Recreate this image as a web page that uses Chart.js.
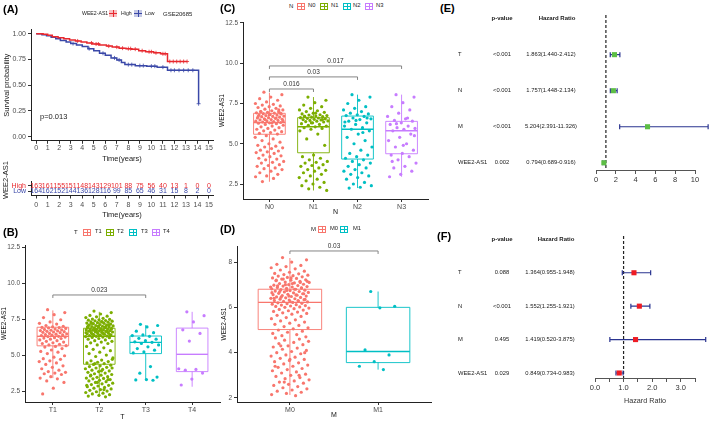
<!DOCTYPE html>
<html>
<head>
<meta charset="utf-8">
<script src="https://cdn.jsdelivr.net/npm/chart.js@4.4.0/dist/chart.umd.min.js"></script>
<style>
  body { margin: 0; background: #fff; font-family: "Liberation Sans", Arial, sans-serif; }
  #wrap { position: relative; width: 709px; height: 421px; overflow: hidden; background: #fff; }
  #wrap canvas { position: absolute; }
  .t { position: absolute; white-space: nowrap; line-height: 1; }
  .key { position: absolute; box-sizing: border-box; }
</style>
</head>
<body>
<div id="wrap"></div>
<script>
// ---------- data ----------
// (A) Kaplan-Meier, GSE20685
const kmTimeHigh = [0, 0.6, 1.0, 1.4, 1.9, 2.4, 2.9, 3.4, 3.9, 4.4, 4.9, 5.5, 6.1, 6.6, 7.2, 7.8, 8.3, 8.9, 9.5, 10.2, 10.8, 11.4, 13.1];
const kmSurvHigh = [1.0, 0.995, 0.985, 0.97, 0.96, 0.95, 0.94, 0.93, 0.92, 0.91, 0.9, 0.89, 0.88, 0.87, 0.86, 0.855, 0.85, 0.835, 0.825, 0.815, 0.805, 0.73, 0.73];
const kmTimeLow = [0, 0.5, 0.9, 1.3, 1.7, 2.1, 2.6, 3.0, 3.5, 4.0, 4.5, 5.0, 5.5, 6.0, 6.5, 7.0, 7.4, 7.7, 8.6, 9.6, 10.5, 11.4, 14.1];
const kmSurvLow = [1.0, 0.99, 0.98, 0.965, 0.95, 0.935, 0.92, 0.905, 0.89, 0.875, 0.855, 0.835, 0.81, 0.79, 0.765, 0.745, 0.72, 0.70, 0.69, 0.685, 0.675, 0.645, 0.32];
const censorHigh = [3.6, 4.8, 5.2, 5.4, 6.3, 7.0, 7.5, 8.0, 8.2, 8.6, 9.2, 9.8, 10.0, 10.4, 11.0, 11.2, 11.6, 11.9, 12.2, 12.5, 12.8, 13.1];
const censorLow = [3.2, 4.6, 5.8, 6.8, 7.2, 8.0, 8.3, 9.0, 9.3, 10.0, 10.3, 11.0, 11.7, 12.0, 12.4, 12.8, 13.2, 13.6, 14.1];
const riskYears = [0, 1, 2, 3, 4, 5, 6, 7, 8, 9, 10, 11, 12, 13, 14, 15];
const riskHigh = [163, 161, 155, 151, 148, 143, 129, 101, 88, 75, 56, 40, 13, 1, 0, 0];
const riskLow = [164, 162, 152, 144, 136, 128, 116, 99, 85, 65, 46, 31, 15, 8, 2, 0];

// (B) T stage
const groupsT = ['T1', 'T2', 'T3', 'T4'];
const statsT = [[3.4, 5.64, 6.3, 6.93, 8.1], [2.1, 4.36, 6.3, 6.86, 8.0], [3.26, 5.1, 5.88, 6.32, 7.08], [2.8, 3.85, 5.05, 6.87, 8.0]];
const valT1 = [8.15,7.95,7.8,7.6,7.45,7.3,7.2,7.15,7.05,7.0,6.95,6.92,6.9,6.88,6.85,6.8,6.78,6.75,6.72,6.7,6.68,6.65,6.62,6.6,6.58,6.55,6.5,6.48,6.45,6.42,6.4,6.38,6.35,6.3,6.28,6.25,6.2,6.18,6.15,6.1,6.05,6.0,5.95,5.9,5.85,5.8,5.75,5.7,5.65,5.6,5.55,5.45,5.35,5.25,5.2,5.1,4.95,4.85,4.75,4.7,4.6,4.55,4.45,4.35,4.25,4.15,4.05,3.95,3.85,3.8,3.75,3.7,3.65,3.5,3.4,3.35,3.2,3.1,2.7,2.3];
const valT2 = [8.05,7.95,7.85,7.75,7.7,7.65,7.6,7.55,7.5,7.48,7.45,7.42,7.4,7.38,7.35,7.32,7.3,7.28,7.25,7.22,7.2,7.18,7.15,7.12,7.1,7.08,7.05,7.02,7.0,6.98,6.96,6.94,6.92,6.9,6.88,6.86,6.84,6.82,6.8,6.78,6.76,6.74,6.72,6.7,6.68,6.66,6.64,6.62,6.6,6.58,6.55,6.52,6.5,6.48,6.45,6.42,6.4,6.38,6.35,6.32,6.3,6.28,6.25,6.22,6.2,6.15,6.1,6.05,6.0,5.95,5.9,5.85,5.8,5.7,5.6,5.5,5.4,5.3,5.2,5.1,5.0,4.9,4.8,
  7.3,7.2,7.1,7.0,6.95,6.9,6.85,6.8,6.75,6.7,6.65,6.6,6.55,6.5,6.45,6.4,6.35,7.05,6.98,6.72,
  4.7,4.65,4.6,4.55,4.5,4.45,4.4,4.35,4.3,4.25,4.2,4.15,4.1,4.05,4.0,3.95,3.9,3.85,3.8,3.75,3.7,3.65,3.6,3.55,3.5,3.45,3.4,3.38,3.35,3.3,3.25,3.2,3.15,3.1,3.05,3.0,2.95,2.9,2.85,2.8,2.75,2.7,2.65,2.6,2.55,2.5,2.45,2.4,2.35,2.3,2.25,2.2,2.15,2.1,4.4,4.1,3.9,3.6,3.3,3.1,2.9,2.6];
const valT3 = [7.13,7.05,6.95,6.66,6.55,6.4,6.35,6.3,6.16,6.1,6.0,5.92,5.88,5.8,5.7,5.57,5.45,5.34,5.22,5.15,4.2,3.74,3.47,3.3,3.27,3.25];
const valT4 = [8.0,7.73,7.3,6.75,6.5,5.97,4.05,4.0,3.95,3.75,3.33,2.92];
const bracketsT = [[1, 3, '0.023']];

// (C) N stage
const groupsN = ['N0', 'N1', 'N2', 'N3'];
const statsN = [[2.64, 5.59, 6.31, 6.89, 8.17], [2.1, 4.44, 6.06, 6.62, 7.9], [2.25, 4.05, 5.9, 6.72, 8.05], [2.95, 4.38, 5.81, 6.39, 8.05]];
const valN0 = [8.2,8.05,7.9,7.8,7.7,7.6,7.5,7.45,7.4,7.35,7.3,7.25,7.2,7.15,7.1,7.05,7.0,6.98,6.95,6.92,6.9,6.87,6.85,6.82,6.8,6.78,6.75,6.72,6.7,6.68,6.65,6.62,6.6,6.58,6.55,6.52,6.5,6.48,6.45,6.42,6.4,6.38,6.35,6.32,6.3,6.28,6.25,6.2,6.15,6.1,6.05,6.0,5.95,5.9,5.85,5.8,5.75,5.7,5.65,5.6,5.5,5.4,5.3,5.2,5.1,5.0,4.9,4.85,4.8,4.75,4.7,4.6,4.55,4.5,4.45,4.4,4.3,4.25,4.2,4.1,4.05,4.0,3.9,3.85,3.8,3.7,3.65,3.6,3.5,3.45,3.4,3.3,3.2,3.1,3.0,2.95,2.85,2.65,6.9,6.8,6.7,6.6,6.5,6.4,6.3,7.0,7.1];
const valN1 = [7.9,7.7,7.55,7.4,7.3,7.2,7.1,7.05,7.0,6.95,6.9,6.85,6.8,6.78,6.75,6.72,6.7,6.68,6.65,6.62,6.6,6.58,6.55,6.52,6.5,6.48,6.45,6.42,6.4,6.38,6.35,6.3,6.25,6.2,6.15,6.1,6.05,6.0,5.95,5.9,5.8,5.6,5.3,4.9,4.3,4.2,4.1,4.0,3.9,3.85,3.8,3.7,3.65,3.6,3.5,3.4,3.35,3.3,3.2,3.1,3.0,2.9,2.8,2.7,2.6,2.5,2.4,2.3,2.2,2.1,6.9,6.7,6.5,6.3];
const valN2 = [8.05,7.9,7.7,7.5,7.3,7.2,7.1,7.0,6.9,6.85,6.8,6.75,6.7,6.6,6.55,6.5,6.4,6.3,6.2,6.1,6.0,5.9,5.8,5.6,5.4,5.2,5.0,4.8,4.6,4.4,4.3,4.2,4.1,4.0,3.9,3.8,3.7,3.6,3.5,3.4,3.3,3.2,3.1,3.0,2.9,2.8,2.6,2.5,2.4,2.3,2.25,6.6,6.45,6.35,5.7];
const valN3 = [8.05,7.9,7.55,7.3,7.1,6.9,6.7,6.55,6.45,6.4,6.3,6.2,6.1,6.0,5.95,5.9,5.8,5.6,5.4,5.2,5.0,4.8,4.6,4.4,4.3,4.2,4.0,3.8,3.6,3.5,3.3,3.1,2.95,6.6,6.25,5.5,4.9,3.9];
const bracketsN = [[1, 4, '0.017'], [1, 3, '0.03'], [1, 2, '0.016']];

// (D) M stage
const groupsM = ['M0', 'M1'];
const statsM = [[2.13, 5.02, 6.22, 6.8, 8.18], [3.25, 3.56, 4.05, 6.0, 6.7]];
const valM0 = [8.2,8.1,8.0,7.9,7.85,7.8,7.75,7.7,7.65,7.6,7.55,7.5,7.48,7.45,7.42,7.4,7.38,7.35,7.32,7.3,7.28,7.25,7.22,7.2,7.18,7.15,7.12,7.1,7.08,7.05,7.02,7.0,6.98,6.96,6.94,6.92,6.9,6.88,6.86,6.84,6.82,6.8,6.78,6.76,6.74,6.72,6.7,6.68,6.66,6.64,6.62,6.6,6.58,6.56,6.54,6.52,6.5,6.48,6.46,6.44,6.42,6.4,6.38,6.36,6.34,6.32,6.3,6.28,6.26,6.24,6.22,6.2,6.18,6.16,6.14,6.12,6.1,6.08,6.06,6.04,6.02,6.0,5.97,5.94,5.91,5.88,5.85,5.82,5.79,5.76,5.73,5.7,5.65,5.6,5.55,5.5,5.45,5.4,5.35,5.3,5.25,5.2,5.15,5.1,5.05,5.0,4.95,4.9,4.85,4.8,4.75,4.7,
  7.3,7.2,7.1,7.0,6.9,6.8,6.7,6.6,6.5,6.4,6.3,7.25,7.15,7.05,6.95,6.85,6.75,6.65,6.55,6.45,6.35,6.25,
  4.65,4.6,4.55,4.5,4.45,4.4,4.35,4.3,4.25,4.2,4.15,4.1,4.05,4.0,3.95,3.9,3.85,3.8,3.75,3.7,3.65,3.6,3.55,3.5,3.45,3.4,3.35,3.3,3.25,3.2,3.15,3.1,3.05,3.0,2.95,2.9,2.85,2.8,2.75,2.7,2.65,2.6,2.55,2.5,2.45,2.4,2.35,2.3,2.25,2.2,2.15,2.1,4.3,4.0,3.7,3.4,3.0,2.7];
const valM1 = [6.7, 6.05, 5.98, 4.12, 3.9, 3.6, 3.4, 3.25];
const bracketsM = [[1, 2, '0.03']];

// (E) univariate / (F) multivariate Cox
const coxRows = ['T', 'N', 'M', 'WEE2-AS1'];
const pUni = ['<0.001', '<0.001', '<0.001', '0.002'];
const hrUni = [1.863, 1.757, 5.204, 0.794];
const loUni = [1.440, 1.448, 2.391, 0.689];
const hiUni = [2.412, 2.134, 11.326, 0.916];
const pMulti = ['0.088', '<0.001', '0.495', '0.029'];
const hrMulti = [1.364, 1.552, 1.419, 0.849];
const loMulti = [0.955, 1.255, 0.520, 0.734];
const hiMulti = [1.948, 1.921, 3.875, 0.983];

// ---------- setup ----------
const FONT = '"Liberation Sans", Arial, sans-serif';
Chart.defaults.font.family = FONT;
Chart.defaults.color = '#333';
Chart.defaults.animation = false;
Chart.defaults.responsive = false;
Chart.defaults.plugins.legend.display = false;
Chart.defaults.plugins.tooltip.enabled = false;

const RED = '#E8282E', BLUE = '#3A48A8';
const hue4 = ['#F8766D', '#7CAE00', '#00BFC4', '#C77CFF'];
const hue2 = ['#F8766D', '#00BFC4'];
const wrap = document.getElementById('wrap');

function makeCanvas(left, top, w, h) {
  const c = document.createElement('canvas');
  c.width = w; c.height = h;
  c.style.left = left + 'px'; c.style.top = top + 'px';
  c.style.width = w + 'px'; c.style.height = h + 'px';
  wrap.appendChild(c);
  return c;
}

function addText(x, y, text, o = {}) {
  const d = document.createElement('div');
  d.className = 't';
  d.textContent = text;
  d.style.left = x + 'px';
  d.style.top = y + 'px';
  d.style.fontSize = (o.size || 6) + 'px';
  d.style.color = o.color || '#222';
  if (o.bold) d.style.fontWeight = 'bold';
  const tx = o.align === 'center' ? '-50%' : o.align === 'right' ? '-100%' : '0';
  d.style.transform = `translate(${tx}, -50%)` + (o.rotate ? ' rotate(-90deg)' : '');
  wrap.appendChild(d);
}

// little boxplot glyph used in the ggplot legends
function addKey(x, y, color, fill) {
  const d = document.createElement('div');
  d.className = 'key';
  d.style.left = x + 'px'; d.style.top = (y - 3.5) + 'px';
  d.style.width = '8px'; d.style.height = '7px';
  d.style.border = fill ? 'none' : `1px solid ${color}`;
  d.style.background = `linear-gradient(${color},${color}) center/100% 1px no-repeat, linear-gradient(${color},${color}) center/1px 100% no-repeat` + (fill ? `, ${fill}` : '');
  wrap.appendChild(d);
}

function jitterX(center, k, w) {
  const f = (k * 0.6180339887 + 0.31) % 1;
  return center + (f - 0.5) * 2 * w;
}

function axisStyle(size) {
  return {
    grid: { drawOnChartArea: false, tickLength: 3, color: '#333' },
    border: { color: '#222', width: 1 },
    ticks: { font: { size }, color: '#4d4d4d', autoSkip: false, maxRotation: 0, minRotation: 0 }
  };
}

// ---------- boxplot panels (B, C, D) ----------
function boxChart(o) {
  const c = makeCanvas(o.left, o.top, o.w, o.h);
  const datasets = o.values.map((vals, i) => ({
    data: vals.map((v, k) => ({ x: jitterX(i + 1, k, o.jitter), y: v })),
    backgroundColor: o.colors[i], borderWidth: 0, pointRadius: 1.6
  }));
  const xs = axisStyle(7), ys = axisStyle(6.5);
  return new Chart(c, {
    type: 'scatter',
    data: { datasets },
    options: {
      layout: { padding: { top: o.padTop, right: o.padRight, left: 0, bottom: 0 } },
      scales: {
        x: {
          ...xs, type: 'linear', min: 0.4, max: o.groups.length + 0.6,
          afterBuildTicks: s => { s.ticks = o.groups.map((g, i) => ({ value: i + 1 })); },
          afterFit: s => { s.height = o.xh; },
          ticks: { ...xs.ticks, padding: 1, callback: v => o.groups[Math.round(v) - 1] },
          title: { display: true, text: o.xTitle, font: { size: 7 }, color: '#111', padding: 0 }
        },
        y: {
          ...ys, min: o.ymin, max: o.ymax,
          afterBuildTicks: s => { s.ticks = o.yTicks.map(v => ({ value: v })); },
          afterFit: s => { s.width = o.yw; },
          ticks: { ...ys.ticks, padding: 2, callback: v => o.yFmt(v) },
          title: { display: true, text: 'WEE2-AS1', font: { size: 6.5 }, color: '#111', padding: { top: o.yTitlePad, bottom: 0 } }
        }
      }
    },
    plugins: [{
      id: 'boxes',
      beforeDatasetsDraw(chart) {
        const { ctx, scales: { x, y } } = chart;
        o.stats.forEach((s, i) => {
          const xc = x.getPixelForValue(i + 1);
          const hw = x.getPixelForValue(i + 1 + o.boxHalf) - xc;
          const [lo, q1, md, q3, hi] = s.map(v => y.getPixelForValue(v));
          ctx.save();
          ctx.strokeStyle = o.colors[i];
          ctx.lineWidth = 0.9;
          ctx.beginPath();
          ctx.moveTo(xc, hi); ctx.lineTo(xc, q3);
          ctx.moveTo(xc, q1); ctx.lineTo(xc, lo);
          ctx.rect(xc - hw, q3, 2 * hw, q1 - q3);
          ctx.stroke();
          ctx.lineWidth = 1.4;
          ctx.beginPath(); ctx.moveTo(xc - hw, md); ctx.lineTo(xc + hw, md); ctx.stroke();
          ctx.restore();
        });
      },
      afterDatasetsDraw(chart) {
        const { ctx, scales: { x, y } } = chart;
        o.brackets.forEach((b, i) => {
          const yy = y.getPixelForValue(o.bracketLevels[i]);
          const x1 = x.getPixelForValue(b[0]), x2 = x.getPixelForValue(b[1]);
          ctx.save();
          ctx.strokeStyle = '#777'; ctx.lineWidth = 0.9;
          ctx.beginPath();
          ctx.moveTo(x1, yy + 3); ctx.lineTo(x1, yy); ctx.lineTo(x2, yy); ctx.lineTo(x2, yy + 3);
          ctx.stroke();
          ctx.fillStyle = '#333'; ctx.font = `6.5px ${FONT}`;
          ctx.textAlign = 'center'; ctx.textBaseline = 'bottom';
          ctx.fillText(b[2], (x1 + x2) / 2, yy - 1.5);
          ctx.restore();
        });
      }
    }]
  });
}

boxChart({
  left: 0, top: 236, w: 225, h: 185, padTop: 9, padRight: 5, yw: 25, xh: 19, yTitlePad: 0,
  groups: groupsT, colors: hue4, values: [valT1, valT2, valT3, valT4], stats: statsT,
  jitter: 0.3, boxHalf: 0.34, xTitle: 'T',
  ymin: 1.74, ymax: 12.64, yTicks: [2.5, 5, 7.5, 10, 12.5], yFmt: v => v.toFixed(1),
  brackets: bracketsT, bracketLevels: [9.17]
});

boxChart({
  left: 218, top: 14, w: 215, h: 202, padTop: 8, padRight: 5, yw: 25, xh: 17, yTitlePad: 0,
  groups: groupsN, colors: hue4, values: [valN0, valN1, valN2, valN3], stats: statsN,
  jitter: 0.33, boxHalf: 0.36, xTitle: 'N',
  ymin: 1.57, ymax: 12.56, yTicks: [2.5, 5, 7.5, 10, 12.5], yFmt: v => v.toFixed(1),
  brackets: bracketsN, bracketLevels: [9.83, 9.15, 8.4]
});

boxChart({
  left: 212, top: 240, w: 224, h: 179, padTop: 6, padRight: 5, yw: 25, xh: 17, yTitlePad: 8,
  groups: groupsM, colors: hue2, values: [valM0, valM1], stats: statsM,
  jitter: 0.22, boxHalf: 0.36, xTitle: 'M',
  ymin: 1.82, ymax: 8.71, yTicks: [2, 4, 6, 8], yFmt: v => String(v),
  brackets: bracketsM, bracketLevels: [8.49]
});

// ---------- (A) Kaplan-Meier ----------
function survAt(times, surv, t) {
  let s = surv[0];
  times.forEach((tt, i) => { if (tt <= t) s = surv[i]; });
  return s;
}
(function () {
  const c = makeCanvas(0, 20, 222, 145);
  const xs = axisStyle(7), ys = axisStyle(7);
  new Chart(c, {
    type: 'scatter',
    data: {
      datasets: [
        { data: kmTimeHigh.map((t, i) => ({ x: t, y: kmSurvHigh[i] })), showLine: true, stepped: true,
          borderColor: RED, borderWidth: 1.5, pointRadius: 0 },
        { data: kmTimeLow.map((t, i) => ({ x: t, y: kmSurvLow[i] })), showLine: true, stepped: true,
          borderColor: BLUE, borderWidth: 1.5, pointRadius: 0 },
        { data: censorHigh.map(t => ({ x: t, y: survAt(kmTimeHigh, kmSurvHigh, t) })),
          pointStyle: 'cross', pointRadius: 2, borderColor: RED, borderWidth: 0.8 },
        { data: censorLow.map(t => ({ x: t, y: survAt(kmTimeLow, kmSurvLow, t) })),
          pointStyle: 'cross', pointRadius: 2, borderColor: BLUE, borderWidth: 0.8 }
      ]
    },
    options: {
      layout: { padding: { top: 9.6, right: 9, left: 0, bottom: 0 } },
      scales: {
        x: {
          ...xs, type: 'linear', min: -0.45, max: 15.35,
          afterBuildTicks: s => { s.ticks = riskYears.map(v => ({ value: v })); },
          afterFit: s => { s.height = 24.2; },
          ticks: { ...xs.ticks, padding: 0 },
          title: { display: true, text: 'Time(years)', font: { size: 7.5 }, color: '#222', padding: { top: 0, bottom: 2 } }
        },
        y: {
          ...ys, min: -0.04, max: 1.04,
          afterBuildTicks: s => { s.ticks = [0, 0.25, 0.5, 0.75, 1].map(v => ({ value: v })); },
          afterFit: s => { s.width = 31; },
          ticks: { ...ys.ticks, padding: 2, callback: v => v.toFixed(2) },
          title: { display: true, text: 'Survival probability', font: { size: 7.5 }, color: '#222', padding: { top: 2, bottom: 0 } }
        }
      }
    }
  });
})();

// risk table under (A)
(function () {
  const c = makeCanvas(0, 175, 222, 45);
  const xs = axisStyle(7), ys = axisStyle(7);
  new Chart(c, {
    type: 'scatter',
    data: {
      datasets: [
        { data: riskHigh.map((n, i) => ({ x: riskYears[i], y: 0, n })), pointRadius: 0, color: RED },
        { data: riskLow.map((n, i) => ({ x: riskYears[i], y: 1, n })), pointRadius: 0, color: BLUE }
      ]
    },
    options: {
      layout: { padding: { top: 5.2, right: 9, left: 0, bottom: 0 } },
      scales: {
        x: {
          ...xs, type: 'linear', min: -0.45, max: 15.35,
          afterBuildTicks: s => { s.ticks = riskYears.map(v => ({ value: v })); },
          afterFit: s => { s.height = 24.5; },
          ticks: { ...xs.ticks, padding: 2 },
          title: { display: true, text: 'Time(years)', font: { size: 7.5 }, color: '#222', padding: { top: 0, bottom: 1 } }
        },
        y: {
          ...ys, reverse: true, min: -0.8, max: 1.75,
          afterBuildTicks: s => { s.ticks = [0, 1].map(v => ({ value: v })); },
          afterFit: s => { s.width = 31; },
          ticks: { font: { size: 7 }, padding: 2, callback: v => (v === 0 ? 'High' : 'Low'),
                   color: ctx => (ctx.tick.value === 0 ? RED : BLUE) },
          title: { display: false }
        }
      }
    },
    plugins: [{
      id: 'riskNumbers',
      afterDatasetsDraw(chart) {
        const { ctx, scales: { x, y } } = chart;
        ctx.save();
        ctx.font = `7px ${FONT}`;
        ctx.textAlign = 'center'; ctx.textBaseline = 'middle';
        chart.data.datasets.forEach(ds => {
          ctx.fillStyle = ds.color;
          ds.data.forEach(p => ctx.fillText(String(p.n), x.getPixelForValue(p.x), y.getPixelForValue(p.y)));
        });
        ctx.restore();
      }
    }]
  });
})();

// ---------- forest plots (E, F) ----------
function forest(o) {
  const c = makeCanvas(o.left, o.top, o.w, o.h);
  const xs = axisStyle(o.tickSize);
  return new Chart(c, {
    type: 'scatter',
    data: {
      datasets: [{
        data: o.hr.map((v, i) => ({ x: v, y: i + 1 })),
        pointStyle: 'rect', pointRadius: 3.6, backgroundColor: o.color, borderWidth: 0, clip: false
      }]
    },
    options: {
      layout: { padding: { top: o.padTop, right: o.padRight, left: o.padLeft, bottom: 0 } },
      scales: {
        x: {
          ...xs, type: 'linear', min: 0, max: o.xmax,
          afterBuildTicks: s => { s.ticks = o.xTicks.map(v => ({ value: v })); },
          afterFit: s => { s.height = o.xh; },
          border: { color: '#555', width: 1 },
          grid: { drawOnChartArea: false, tickLength: 4, color: '#555' },
          ticks: { font: { size: o.tickSize }, color: '#333', padding: 1, autoSkip: false, maxRotation: 0, minRotation: 0, callback: o.xFmt },
          title: { display: !!o.xTitle, text: o.xTitle || '', font: { size: 7.2 }, color: '#333', padding: { top: 0, bottom: o.xTitlePad } }
        },
        y: { type: 'linear', reverse: true, min: -0.1, max: o.ymax, display: false }
      }
    },
    plugins: [{
      id: 'forestParts',
      beforeDatasetsDraw(chart) {
        const { ctx, chartArea: a, scales: { x, y } } = chart;
        ctx.save();
        // reference line at HR = 1
        const x1 = x.getPixelForValue(1);
        ctx.strokeStyle = '#222'; ctx.lineWidth = 1.2; ctx.setLineDash([3, 2]);
        ctx.beginPath(); ctx.moveTo(x1, a.top); ctx.lineTo(x1, a.bottom); ctx.stroke();
        ctx.setLineDash([]);
        // confidence intervals
        ctx.strokeStyle = '#2A3490'; ctx.lineWidth = 1.2;
        o.hr.forEach((v, i) => {
          const yy = y.getPixelForValue(i + 1);
          const xl = x.getPixelForValue(o.lo[i]), xr = x.getPixelForValue(o.hi[i]);
          ctx.beginPath();
          ctx.moveTo(xl, yy); ctx.lineTo(xr, yy);
          ctx.moveTo(xl, yy - 2.5); ctx.lineTo(xl, yy + 2.5);
          ctx.moveTo(xr, yy - 2.5); ctx.lineTo(xr, yy + 2.5);
          ctx.stroke();
        });
        // text columns
        ctx.fillStyle = '#1a1a1a'; ctx.textBaseline = 'middle';
        const y0 = y.getPixelForValue(0);
        ctx.font = `bold 6px ${FONT}`; ctx.textAlign = 'center';
        ctx.fillText('p-value', o.colP, y0);
        ctx.fillText('Hazard Ratio', o.colHead, y0);
        ctx.font = `5.8px ${FONT}`;
        o.rows.forEach((r, i) => {
          const yy = y.getPixelForValue(i + 1);
          ctx.textAlign = 'left'; ctx.fillText(r, o.colRow, yy);
          ctx.textAlign = 'center'; ctx.fillText(o.p[i], o.colP, yy);
          ctx.fillText(`${o.hr[i].toFixed(3)}(${o.lo[i].toFixed(3)}-${o.hi[i].toFixed(3)})`, o.colHR, yy);
        });
        ctx.restore();
      }
    }]
  });
}

forest({
  left: 455, top: 0, w: 254, h: 190, padTop: 15, padRight: 14, padLeft: 141, xh: 20,
  rows: coxRows, p: pUni, hr: hrUni, lo: loUni, hi: hiUni, color: '#5DBE45',
  xmax: 10, xTicks: [0, 2, 4, 6, 8, 10], xFmt: v => String(v), tickSize: 7.5,
  ymax: 4.2, colRow: 3, colP: 47, colHR: 96, colHead: 102
});

forest({
  left: 455, top: 228, w: 254, h: 193, padTop: 8, padRight: 14, padLeft: 140, xh: 43,
  rows: coxRows, p: pMulti, hr: hrMulti, lo: loMulti, hi: hiMulti, color: '#EE1C24',
  xmax: 3.5, xTicks: [0, 0.5, 1, 1.5, 2, 2.5, 3, 3.5], xFmt: v => (Number.isInteger(v) ? v.toFixed(1) : ''), tickSize: 7.5,
  xTitle: 'Hazard Ratio', xTitlePad: 16,
  ymax: 4.15, colRow: 3, colP: 47, colHR: 95, colHead: 101
});

// ---------- panel letters and legends ----------
[['(A)', 3, 9], ['(B)', 3, 232], ['(C)', 220, 8], ['(D)', 220, 229], ['(E)', 440, 8], ['(F)', 437, 236]]
  .forEach(([s, x, y]) => addText(x, y, s, { size: 11, bold: true, color: '#000' }));

// (A) legend
addText(82, 13.5, 'WEE2-AS1', { size: 5.2 });
addKey(109, 13.5, RED, 'rgba(232,40,46,0.3)');
addText(121, 13.5, 'High', { size: 5.2 });
addKey(134, 13.5, BLUE, 'rgba(58,72,168,0.3)');
addText(145, 13.5, 'Low', { size: 5.2 });
addText(163, 13.5, 'GSE20685', { size: 6 });
addText(40, 117, 'p=0.013', { size: 7.5, color: '#222' });
// risk table title (vertical)
addText(5.5, 180, 'WEE2-AS1', { size: 7.5, align: 'center', rotate: true });

// boxplot legends
function boxLegend(x0, y, title, labels, colors, keyX, textX) {
  addText(x0, y, title, { size: 6 });
  labels.forEach((l, i) => { addKey(keyX[i], y, colors[i]); addText(textX[i], y, l, { size: 5.8 }); });
}
boxLegend(74, 232, 'T', groupsT, hue4, [83, 106, 129, 152], [95, 117, 141, 163]);
boxLegend(289, 6, 'N', groupsN, hue4, [297, 320, 343, 365], [308, 331, 353, 376]);
boxLegend(311, 229, 'M', groupsM, hue2, [318, 340], [330, 353]);
</script>
</body>
</html>
